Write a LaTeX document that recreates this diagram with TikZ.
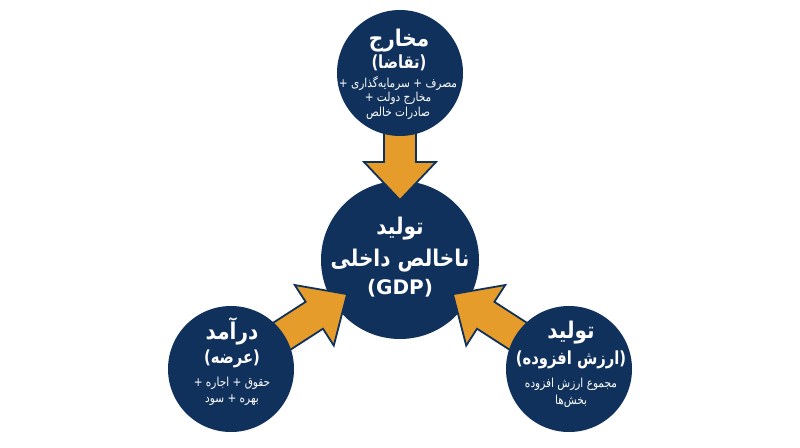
\documentclass[tikz,border=0pt]{standalone}
\usepackage{fontspec}
\usetikzlibrary{calc}
\TeXXeTstate=1
\newfontfamily\faB[Script=Arabic,FakeStretch=0.87]{DejaVu Sans Bold}
\newfontfamily\faP[Script=Arabic,FakeStretch=0.82]{DejaVu Sans Bold}
\newfontfamily\faS[Script=Arabic,FakeStretch=0.85]{DejaVu Sans}
\newfontfamily\lat{DejaVu Sans Bold}
\definecolor{navy}{RGB}{16,49,92}
\definecolor{gold}{RGB}{229,156,42}
\pgfdeclarelayer{back}
\pgfdeclarelayer{mid}
\pgfsetlayers{back,mid,main}
\tikzset{
  bigcirc/.style={circle,fill=navy,draw=none,minimum size=158pt,inner sep=0pt},
  smallcirc/.style={circle,fill=navy,draw=none,minimum size=126pt,inner sep=0pt},
  arrowbody/.style={fill=gold,draw=navy,line width=1.8pt,line join=miter},
  txt/.style={text=white,inner sep=0pt,anchor=base},
  ttl/.style={txt,font=\faB\fontsize{23}{26}\selectfont},
  prn/.style={txt,font=\faP\fontsize{18}{21}\selectfont},
  sml/.style={txt,font=\faS\fontsize{12.4}{14}\selectfont},
  big/.style={txt,font=\faB\fontsize{23}{26}\selectfont},
  biglat/.style={txt,font=\lat\fontsize{20}{24}\selectfont},
}
% #1 outer node, #2 centre node, #3 tip distance, #4 head-base distance
\newcommand\blockarr[4]{%
  \coordinate (T-#1) at ($(#2.center)!#3!(#1.center)$);
  \coordinate (H-#1) at ($(#2.center)!#4!(#1.center)$);
  \draw[arrowbody] ($(#1.center)!16pt!90:(T-#1)$) -- ($(H-#1)!16pt!90:(T-#1)$)
    -- ($(H-#1)!36pt!90:(T-#1)$) -- (T-#1) -- ($(H-#1)!36pt!-90:(T-#1)$)
    -- ($(H-#1)!16pt!-90:(T-#1)$) -- ($(#1.center)!16pt!-90:(T-#1)$) -- cycle;
}
\begin{document}
\begin{tikzpicture}[x=1pt,y=-1pt]
\useasboundingbox (0,0) rectangle (800,447);
\begin{pgfonlayer}{back}
\fill[white] (0,0) rectangle (800,447);
\node[bigcirc] (gdp) at (400,260) {};
\end{pgfonlayer}
\node[smallcirc] (exp) at (400,73) {};
\node[smallcirc] (inc) at (231,369) {};
\node[smallcirc] (prod) at (569,369) {};
\begin{pgfonlayer}{mid}
\blockarr{exp}{gdp}{60pt}{98pt}
\blockarr{inc}{gdp}{63pt}{102pt}
\blockarr{prod}{gdp}{63pt}{102pt}
\end{pgfonlayer}
% central texts
\node[big] (g1) at (400,234) {\beginR تولید\endR};
\node[big] (g2) at (400,266) {\beginR ناخالص داخلی\endR};
\node[biglat] (g3) at (400,294) {(GDP)};
% top texts
\node[ttl] (e1) at (399,46) {\beginR مخارج\endR};
\node[prn] (e2) at (399,68) {\beginR (تقاضا)\endR};
\node[sml] (e3) at (398,87) {\beginR مصرف + سرمایه‌گذاری +\endR};
\node[sml] (e4) at (398,101.5) {\beginR مخارج دولت +\endR};
\node[sml] (e5) at (398,116) {\beginR صادرات خالص\endR};
% bottom-left texts
\node[ttl] (i1) at (232,339) {\beginR درآمد\endR};
\node[prn] (i2) at (232,363) {\beginR (عرضه)\endR};
\node[sml] (i3) at (232,386) {\beginR حقوق + اجاره +\endR};
\node[sml] (i4) at (232,402) {\beginR بهره + سود\endR};
% bottom-right texts
\node[ttl] (p1) at (571,338) {\beginR تولید\endR};
\node[prn] (p2) at (571,364) {\beginR (ارزش افزوده)\endR};
\node[sml] (p3) at (571,387) {\beginR مجموع ارزش افزوده\endR};
\node[sml] (p4) at (571,404) {\beginR بخش‌ها\endR};
\end{tikzpicture}
\end{document}
